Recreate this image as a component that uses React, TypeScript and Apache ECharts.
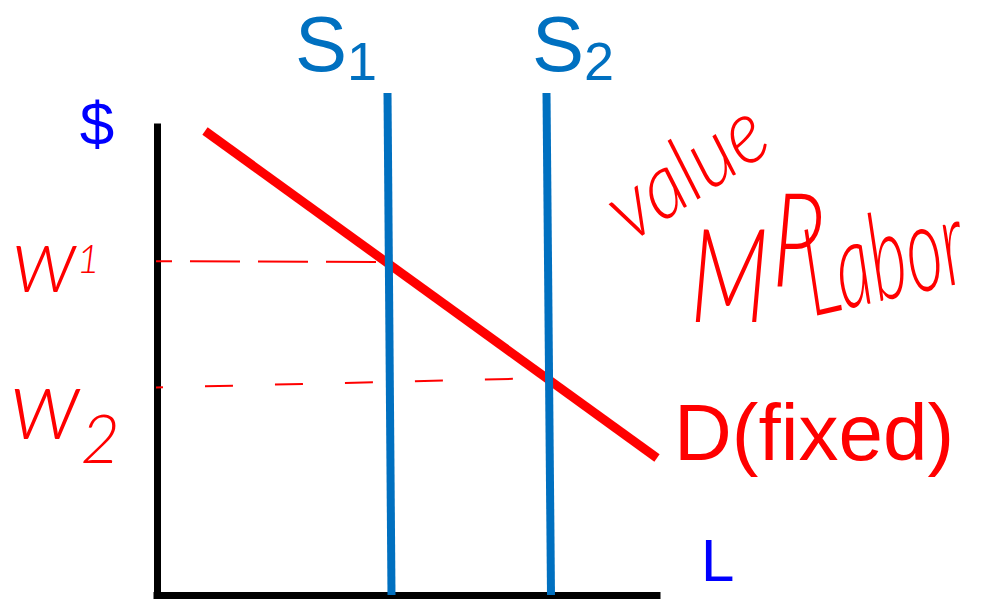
import { useEffect, useRef } from "react";
import * as echarts from "echarts";

// Labour market: vertical supply curves S1, S2 against a fixed demand curve
// (the value of the marginal product of labour). Units: L across, $ up.
const supplyLabels = ["S1", "S2"];
const supply1: number[][] = [
  [46.1, 100.4],
  [46.9, 0],
];
const supply2: number[][] = [
  [77.9, 100.4],
  [78.8, 0],
];
const demand: number[][] = [
  [9.6, 92.8],
  [100, 27.4],
];
// wage guides drawn from the $ axis out to each equilibrium
const wageGuide1: number[][] = [
  [-7, 66.8],
  [46.5, 66.6],
];
const wageGuide2: number[][] = [
  [-4.4, 41.4],
  [78.4, 43.4],
];
const xMax = 100;
const yMax = 93.6;

const BLUE = "#0070c0";
const RED = "#ff0000";
const PURE_BLUE = "#0000ff";
const SANS = '"Liberation Sans", Arial, sans-serif';
const HAND = 'Lato, "Noto Sans", sans-serif';
const HAND_WEIGHT = 300;

export default function App() {
  const ref = useRef<HTMLDivElement>(null);

  useEffect(() => {
    if (!ref.current) return;
    const chart = echarts.init(ref.current, undefined, { renderer: "svg" });

    const plainLine = (data: number[][], color: string, width: number, z: number) => ({
      type: "line",
      data,
      symbol: "none",
      clip: false,
      silent: true,
      z,
      lineStyle: { color, width, cap: "butt" },
    });

    const dashed = (data: number[][], dash: number[]) => ({
      type: "line",
      data,
      symbol: "none",
      clip: false,
      silent: true,
      z: 1,
      lineStyle: { color: RED, width: 2, type: dash },
    });

    const handFont = (size: number, extra: Record<string, unknown> = {}) => ({
      fontFamily: HAND,
      fontSize: size,
      fontStyle: "italic",
      fontWeight: HAND_WEIGHT,
      fill: RED,
      verticalAlign: "bottom",
      ...extra,
    });

    const handText = (
      text: string,
      x: number,
      y: number,
      size: number,
      extra: Record<string, unknown> = {},
      rich?: Record<string, unknown>
    ) => ({
      type: "text",
      x,
      y,
      silent: true,
      ...extra,
      style: {
        text,
        fill: RED,
        fontFamily: HAND,
        fontSize: size,
        fontStyle: "italic",
        fontWeight: HAND_WEIGHT,
        align: "left",
        verticalAlign: "bottom",
        rich,
      },
    });

    // supply-curve names with a subscript index, hung from the top of the chart
    const subLabel = (name: string, x: number) => ({
      type: "text",
      x,
      y: 5,
      silent: true,
      style: {
        text: `{s|${name[0]}}{n|${name.slice(1)}}`,
        align: "left",
        verticalAlign: "top",
        rich: {
          s: { fontFamily: SANS, fontSize: 78, fill: BLUE, verticalAlign: "top", padding: [0, 0, 5, 0] },
          n: { fontFamily: SANS, fontSize: 54, fill: BLUE, verticalAlign: "bottom" },
        },
      },
    });

    chart.setOption({
      animation: false,
      backgroundColor: "#ffffff",
      grid: { left: 157, top: 127, width: 500, height: 468, containLabel: false },
      xAxis: {
        type: "value",
        min: 0,
        max: xMax,
        axisLine: { show: true, lineStyle: { color: "#000000", width: 7, cap: "square" } },
        axisTick: { show: false },
        axisLabel: { show: false },
        splitLine: { show: false },
      },
      yAxis: {
        type: "value",
        min: 0,
        max: yMax,
        axisLine: { show: true, lineStyle: { color: "#000000", width: 7, cap: "square" } },
        axisTick: { show: false },
        axisLabel: { show: false },
        splitLine: { show: false },
      },
      series: [
        dashed(wageGuide1, [50, 18]),
        dashed(wageGuide2, [28, 42]),
        plainLine(demand, RED, 9, 3),
        plainLine(supply1, BLUE, 8, 4),
        plainLine(supply2, BLUE, 8, 4),
      ],
      graphic: [
        subLabel(supplyLabels[0], 295),
        subLabel(supplyLabels[1], 532),
        {
          type: "text",
          x: 97,
          y: 123,
          silent: true,
          style: { text: "$", fontFamily: SANS, fontSize: 62, fill: PURE_BLUE, align: "center", verticalAlign: "middle" },
        },
        {
          type: "text",
          x: 701,
          y: 560,
          silent: true,
          style: { text: "L", fontFamily: SANS, fontSize: 60, fill: PURE_BLUE, align: "left", verticalAlign: "middle" },
        },
        {
          type: "text",
          x: 674,
          y: 432,
          silent: true,
          style: { text: "D(fixed)", fontFamily: SANS, fontSize: 80, fill: RED, align: "left", verticalAlign: "middle" },
        },
        handText("{w|w}{n|1}", 12, 302, 92, {}, {
          w: handFont(92),
          n: handFont(40, { padding: [0, 0, 24, 0] }),
        }),
        handText("{w|w}{n|2}", 10, 470, 100, {}, {
          w: handFont(100, { padding: [0, 0, 20, 0] }),
          n: handFont(68),
        }),
        handText("value", 636, 252, 90, { rotation: 0.58, scaleX: 0.9 }),
        handText("{m|M}{p|P}", 690, 336, 130, { scaleX: 0.72 }, {
          m: handFont(130),
          p: handFont(130, { padding: [0, 0, 36, 4] }),
        }),
        handText("Labor", 816, 330, 122, { rotation: 0.22, scaleX: 0.58 }),
      ],
    });

    return () => chart.dispose();
  }, []);

  return (
    <div
      ref={ref}
      style={{ position: "absolute", left: 0, top: 0, width: 983, height: 599, background: "#ffffff" }}
    />
  );
}
